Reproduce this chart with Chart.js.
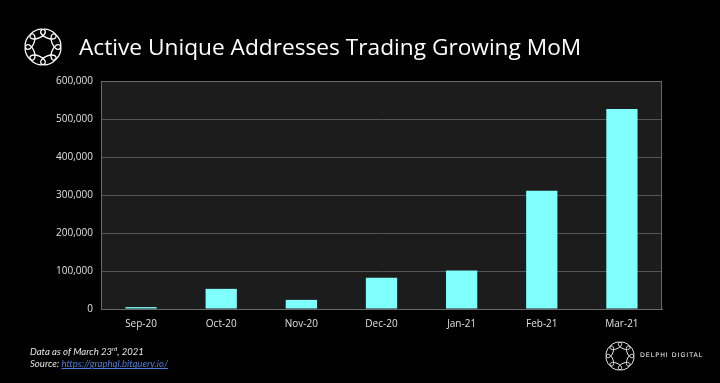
<!DOCTYPE html>
<html>
<head>
<meta charset="utf-8">
<script src="https://cdn.jsdelivr.net/npm/chart.js@4.4.1/dist/chart.umd.min.js"></script>
<style>
  html, body { margin: 0; padding: 0; background: #000; }
  #wrap { position: relative; width: 720px; height: 383px; overflow: hidden; background: #000; }
  #chart { position: absolute; left: 0; top: 0; }
  #title { position: absolute; left: 79px; top: 31px; color: #fff; font-family: "Open Sans", sans-serif; font-size: 22.7px; font-weight: 400; white-space: nowrap; }
  #foot { position: absolute; left: 30px; top: 343px; color: #e6e6e6; font-family: "Lato", sans-serif; font-style: italic; font-size: 9.6px; line-height: 12px; }
  #foot a { color: #4a7fd6; text-decoration: underline; }
  #brand { position: absolute; left: 640px; top: 351px; color: #fff; font-family: "DejaVu Sans", sans-serif; font-size: 6.3px; letter-spacing: 1px; white-space: nowrap; }
</style>
</head>
<body>
<div id="wrap">
  <canvas id="chart" width="720" height="383"></canvas>
  <div id="title">Active Unique Addresses Trading Growing MoM</div>
  <div id="foot">Data as of March 23<sup style="font-size:6px">rd</sup>, 2021<br>Source: <a href="#">https://graphql.bitquery.io/</a></div>
  <div id="brand">DELPHI DIGITAL</div>
</div>
<script>
const months = ['Sep-20', 'Oct-20', 'Nov-20', 'Dec-20', 'Jan-21', 'Feb-21', 'Mar-21'];
const addresses = [5000, 53000, 24000, 82000, 101000, 311000, 526000];
const yTicks = [0, 100000, 200000, 300000, 400000, 500000, 600000];

// logo: ring of small overlapping loops
function drawLogo(ctx, cx, cy, r, er, lw) {
    ctx.save();
    ctx.strokeStyle = '#fff';
    ctx.lineWidth = lw;
    for (let i = 0; i < 8; i++) {
        const a = i * Math.PI / 4 + Math.PI / 8;
        ctx.beginPath();
        ctx.ellipse(cx + Math.cos(a) * r, cy + Math.sin(a) * r, er * 1.5, er * 0.75, a + Math.PI / 2, 0, Math.PI * 2);
        ctx.stroke();
    }
    ctx.restore();
}

const areaPlugin = {
    id: 'area',
    beforeDraw(chart) {
        const { ctx, chartArea: a } = chart;
        ctx.save();
        ctx.fillStyle = '#1c1c1c';
        ctx.fillRect(a.left, a.top, a.right - a.left, a.bottom - a.top);
        ctx.restore();
    },
    afterDatasetsDraw(chart) {
        const { ctx, chartArea: a } = chart;
        ctx.save();
        ctx.strokeStyle = '#6a6a6a';
        ctx.lineWidth = 1;
        ctx.strokeRect(a.left + 0.5, a.top + 0.5, a.right - a.left - 1, a.bottom - a.top);
        ctx.restore();
        drawLogo(ctx, 43, 47, 14, 5.5, 1.3);
        drawLogo(ctx, 620, 356, 11, 4.2, 0.9);
    }
};

const ctx = document.getElementById('chart').getContext('2d');
new Chart(ctx, {
    type: 'bar',
    data: {
        labels: months,
        datasets: [{
            data: addresses,
            backgroundColor: '#80ffff',
            barPercentage: 0.39,
            categoryPercentage: 1
        }]
    },
    options: {
        responsive: false,
        animation: false,
        layout: { padding: { top: 81, right: 58, left: 0, bottom: 0 } },
        plugins: { legend: { display: false }, tooltip: { enabled: false } },
        scales: {
            x: {
                grid: { display: false },
                border: { color: '#6a6a6a' },
                ticks: { color: '#e0e0e0', font: { family: 'Open Sans', size: 10 }, padding: 1 },
                afterFit: s => { s.height = 74; }
            },
            y: {
                min: 0,
                max: 600000,
                afterBuildTicks: s => { s.ticks = yTicks.map(v => ({ value: v })); },
                grid: { color: '#555555', drawTicks: false },
                border: { display: false },
                ticks: {
                    color: '#e0e0e0',
                    font: { family: 'Open Sans', size: 10 },
                    padding: 8,
                    callback: v => v.toLocaleString('en-US')
                },
                afterFit: s => { s.width = 101; }
            }
        }
    },
    plugins: [areaPlugin]
});
</script>
</body>
</html>
